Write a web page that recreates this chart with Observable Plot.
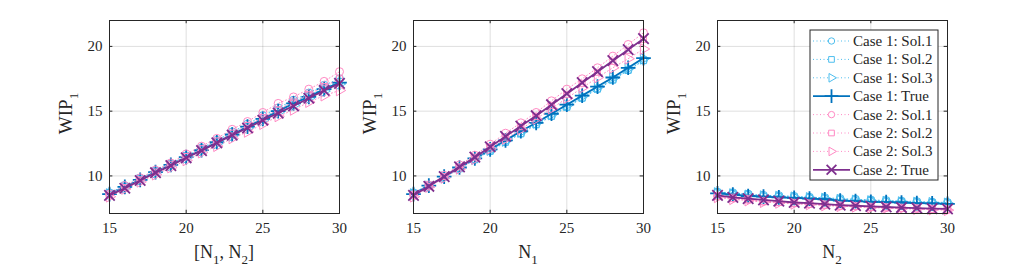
<!DOCTYPE html>
<html>
<head>
<meta charset="utf-8">
<script src="https://cdn.jsdelivr.net/npm/d3@7"></script>
<script src="https://cdn.jsdelivr.net/npm/@observablehq/plot@0.6"></script>
<style>
  body { margin: 0; background: #fff; }
  #wrap { position: relative; width: 1017px; height: 271px; background: #fff; overflow: hidden; }
  #wrap svg { position: absolute; top: 0; }
</style>
</head>
<body>
<div id="wrap"></div>
<script>
// ---- data ----
const xs = [15, 16, 17, 18, 19, 20, 21, 22, 23, 24, 25, 26, 27, 28, 29, 30];
const xTicks = [15, 20, 25, 30];
const yTicks = [10, 15, 20];
const seriesLabels = ["Case 1: Sol.1", "Case 1: Sol.2", "Case 1: Sol.3", "Case 1: True",
                      "Case 2: Sol.1", "Case 2: Sol.2", "Case 2: Sol.3", "Case 2: True"];
const xLabels = [["[N", "1", ", N", "2", "]"], ["N", "1"], ["N", "2"]];
const yLabel = ["WIP", "1"];

// Panel 1: x = [N1, N2]
const p1_c1s1 = [8.7, 9.25, 9.8, 10.4, 10.95, 11.55, 12.15, 12.75, 13.4, 14.0, 14.65, 15.25, 15.85, 16.4, 17.0, 17.5];
const p1_c1s2 = [8.65, 9.2, 9.75, 10.35, 10.9, 11.5, 12.05, 12.65, 13.25, 13.85, 14.5, 15.1, 15.7, 16.2, 16.8, 17.3];
const p1_c1s3 = [8.6, 9.1, 9.7, 10.25, 10.8, 11.4, 11.95, 12.5, 13.1, 13.7, 14.3, 14.9, 15.45, 16.0, 16.55, 17.1];
const p1_c1t  = [8.6, 9.15, 9.7, 10.3, 10.85, 11.45, 12.0, 12.6, 13.2, 13.8, 14.4, 15.0, 15.6, 16.1, 16.7, 17.2];
const p1_c2s1 = [8.6, 9.25, 9.85, 10.45, 11.0, 11.7, 12.3, 12.9, 13.6, 14.2, 14.9, 15.6, 16.1, 16.7, 17.3, 18.05];
const p1_c2s2 = [8.5, 9.1, 9.7, 10.3, 10.9, 11.5, 12.1, 12.7, 13.3, 13.9, 14.5, 15.1, 15.7, 16.3, 16.9, 17.5];
const p1_c2s3 = [8.4, 9.0, 9.55, 10.1, 10.65, 11.2, 11.8, 12.3, 12.9, 13.4, 14.0, 14.6, 15.1, 15.7, 16.2, 16.6];
const p1_c2t  = [8.5, 9.05, 9.65, 10.25, 10.8, 11.4, 11.95, 12.55, 13.15, 13.7, 14.3, 14.85, 15.4, 16.0, 16.6, 17.15];

// Panel 2: x = N1
const p2_c1s1 = [8.7, 9.3, 9.95, 10.6, 11.3, 11.95, 12.65, 13.3, 14.0, 14.65, 15.35, 16.05, 16.75, 17.45, 18.2, 18.95];
const p2_c1s2 = [8.65, 9.25, 9.9, 10.55, 11.25, 11.9, 12.6, 13.25, 13.95, 14.6, 15.3, 16.0, 16.7, 17.4, 18.15, 18.9];
const p2_c1s3 = [8.6, 9.2, 9.9, 10.6, 11.3, 12.0, 12.7, 13.4, 14.1, 14.75, 15.45, 16.15, 16.85, 17.55, 18.3, 19.05];
const p2_c1t  = [8.6, 9.25, 9.95, 10.65, 11.35, 12.05, 12.75, 13.45, 14.1, 14.8, 15.5, 16.2, 16.9, 17.6, 18.35, 19.1];
const p2_c2s1 = [8.55, 9.3, 10.05, 10.85, 11.6, 12.45, 13.3, 14.1, 14.9, 15.8, 16.7, 17.5, 18.35, 19.25, 20.15, 21.05];
const p2_c2s2 = [8.5, 9.2, 9.95, 10.7, 11.45, 12.25, 13.0, 13.8, 14.6, 15.45, 16.3, 17.15, 18.0, 18.85, 19.7, 20.55];
const p2_c2s3 = [8.4, 9.15, 9.85, 10.55, 11.3, 12.1, 12.85, 13.6, 14.4, 15.2, 16.0, 16.8, 17.6, 18.35, 19.05, 19.8];
const p2_c2t  = [8.5, 9.2, 9.95, 10.7, 11.45, 12.25, 13.05, 13.85, 14.65, 15.5, 16.35, 17.2, 18.05, 18.9, 19.75, 20.6];

// Panel 3: x = N2
const p3_c1s1 = [8.75, 8.7, 8.6, 8.5, 8.48, 8.42, 8.36, 8.32, 8.25, 8.2, 8.15, 8.1, 8.06, 8.02, 7.98, 7.95];
const p3_c1s2 = [8.7, 8.65, 8.55, 8.45, 8.42, 8.38, 8.32, 8.28, 8.2, 8.15, 8.1, 8.05, 8.02, 7.98, 7.95, 7.92];
const p3_c1s3 = [8.68, 8.6, 8.5, 8.44, 8.4, 8.35, 8.3, 8.25, 8.16, 8.1, 8.06, 8.02, 7.98, 7.94, 7.92, 7.88];
const p3_c1t  = [8.65, 8.55, 8.45, 8.4, 8.35, 8.3, 8.25, 8.2, 8.1, 8.05, 8.0, 7.98, 7.95, 7.9, 7.88, 7.85];
const p3_c2s1 = [8.45, 8.3, 8.2, 8.05, 8.0, 7.9, 7.85, 7.78, 7.7, 7.66, 7.6, 7.56, 7.52, 7.48, 7.44, 7.4];
const p3_c2s2 = [8.4, 8.25, 8.15, 8.0, 7.95, 7.88, 7.82, 7.75, 7.68, 7.64, 7.58, 7.54, 7.5, 7.46, 7.42, 7.38];
const p3_c2s3 = [8.35, 8.2, 8.1, 7.98, 7.92, 7.85, 7.8, 7.72, 7.66, 7.62, 7.56, 7.52, 7.48, 7.44, 7.4, 7.36];
const p3_c2t  = [8.5, 8.35, 8.25, 8.15, 8.05, 7.95, 7.9, 7.82, 7.75, 7.7, 7.65, 7.6, 7.56, 7.52, 7.48, 7.45];

const panels = [
  [p1_c1s1, p1_c1s2, p1_c1s3, p1_c1t, p1_c2s1, p1_c2s2, p1_c2s3, p1_c2t],
  [p2_c1s1, p2_c1s2, p2_c1s3, p2_c1t, p2_c2s1, p2_c2s2, p2_c2s3, p2_c2t],
  [p3_c1s1, p3_c1s2, p3_c1s3, p3_c1t, p3_c2s1, p3_c2s2, p3_c2s3, p3_c2t]
];

// ---- styles ----
const LB = "#4DBEEE", DB = "#0072BD", PK = "#FF8AC4", PU = "#7E2F8E";
const styles = [
  {color: LB, dash: "1,2.5", width: 1, symbol: "circle", r: 4, rotate: 0},
  {color: LB, dash: "1,2.5", width: 1, symbol: "square", r: 3.4, rotate: 0},
  {color: LB, dash: "1,2.5", width: 1, symbol: "triangle", r: 4, rotate: 90},
  {color: DB, dash: null, width: 1.8, symbol: "plus", r: 4.8, rotate: 0},
  {color: PK, dash: "1,2.5", width: 1, symbol: "circle", r: 4, rotate: 0},
  {color: PK, dash: "1,2.5", width: 1, symbol: "square", r: 3.4, rotate: 0},
  {color: PK, dash: "1,2.5", width: 1, symbol: "triangle", r: 4, rotate: 90},
  {color: PU, dash: null, width: 1.8, symbol: "times", r: 4.8, rotate: 0}
];
const FONT = "'Liberation Serif', 'Times New Roman', serif";
const INK = "#262626";
const lefts = [0, 304, 608];
const W = 360, H = 271, ML = 109, MR = 21, MT = 20, MB = 58;

const wrap = document.getElementById("wrap");

panels.forEach((series, pi) => {
  const marks = [
    Plot.gridX(xTicks, {stroke: "#000", strokeOpacity: 0.13}),
    Plot.gridY(yTicks, {stroke: "#000", strokeOpacity: 0.13}),
    Plot.ruleY(yTicks, {x1: 15, x2: 15.22, stroke: INK}),
    Plot.ruleY(yTicks, {x1: 29.78, x2: 30, stroke: INK}),
    Plot.ruleX(xTicks, {y1: 7.1, y2: 7.35, stroke: INK}),
    Plot.ruleX(xTicks, {y1: 21.75, y2: 22, stroke: INK}),
    Plot.axisX({ticks: xTicks, tickSize: 0, tickPadding: 9, label: null, fontSize: 15, tickFormat: d => d}),
    Plot.axisY({ticks: yTicks, tickSize: 0, tickPadding: 7, label: null, fontSize: 15, tickFormat: d => d})
  ];
  series.forEach((vals, si) => {
    const s = styles[si];
    const rows = xs.map((x, i) => ({x, y: vals[i]}));
    marks.push(Plot.line(rows, {x: "x", y: "y", stroke: s.color, strokeWidth: s.width,
      strokeDasharray: s.dash || undefined}));
    marks.push(Plot.dot(rows, {x: "x", y: "y", symbol: s.symbol, r: s.r, rotate: s.rotate,
      stroke: s.color, fill: "none", strokeWidth: s.symbol === "plus" || s.symbol === "times" ? 1.8 : 1}));
  });
  marks.push(Plot.frame({stroke: INK, strokeWidth: 1}));

  const svg = Plot.plot({
    width: W, height: H, marginLeft: ML, marginRight: MR, marginTop: MT, marginBottom: MB,
    x: {domain: [15, 30]},
    y: {domain: [7.1, 22]},
    style: {fontFamily: FONT, fontSize: "15px", color: INK, background: "transparent", overflow: "visible"},
    marks
  });
  svg.style.left = lefts[pi] + "px";
  wrap.appendChild(svg);

  const sel = d3.select(svg);
  // x label with subscripts
  const xl = sel.append("text")
    .attr("x", (ML + (W - MR)) / 2).attr("y", 258)
    .attr("text-anchor", "middle")
    .attr("font-family", FONT).attr("font-size", 18).attr("fill", INK);
  xLabels[pi].forEach((part, k) => {
    const isSub = k % 2 === 1;
    xl.append("tspan").text(part)
      .attr("font-size", isSub ? 13 : 18)
      .attr("dy", isSub ? 6 : (k > 0 ? -6 : 0));
  });
  // y label
  const yl = sel.append("text")
    .attr("transform", `translate(72,${(MT + H - MB) / 2 - 3}) rotate(-90)`)
    .attr("text-anchor", "middle")
    .attr("font-family", FONT).attr("font-size", 19).attr("fill", INK);
  yl.append("tspan").text(yLabel[0]);
  yl.append("tspan").text(yLabel[1]).attr("font-size", 13).attr("dy", 6);

  // legend in last panel
  if (pi === 2) {
    const g = sel.append("g").attr("transform", "translate(202,30)");
    g.append("rect").attr("x", 0).attr("y", 0).attr("width", 128).attr("height", 150)
      .attr("fill", "#fff").attr("stroke", INK).attr("stroke-width", 1);
    const symMap = {circle: d3.symbolCircle, square: d3.symbolSquare, triangle: d3.symbolTriangle,
      plus: d3.symbolPlus, times: d3.symbolTimes};
    seriesLabels.forEach((lab, i) => {
      const s = styles[i];
      const y = 11 + i * 18.4;
      const lr = s.symbol === "plus" || s.symbol === "times" ? 4.5 : 3.2;
      g.append("line").attr("x1", 3).attr("x2", 40).attr("y1", y).attr("y2", y)
        .attr("stroke", s.color).attr("stroke-width", s.width)
        .attr("stroke-dasharray", s.dash || null);
      g.append("path")
        .attr("d", d3.symbol(symMap[s.symbol], Math.PI * lr * lr)())
        .attr("transform", `translate(21.5,${y}) rotate(${s.rotate})`)
        .attr("fill", s.symbol === "plus" || s.symbol === "times" ? "none" : "#fff")
        .attr("stroke", s.color).attr("stroke-width", s.symbol === "plus" || s.symbol === "times" ? 1.8 : 1);
      g.append("text").attr("x", 43).attr("y", y + 5).text(lab)
        .attr("text-anchor", "start")
        .attr("font-family", FONT).attr("font-size", 15).attr("fill", INK);
    });
  }
});
</script>
</body>
</html>
